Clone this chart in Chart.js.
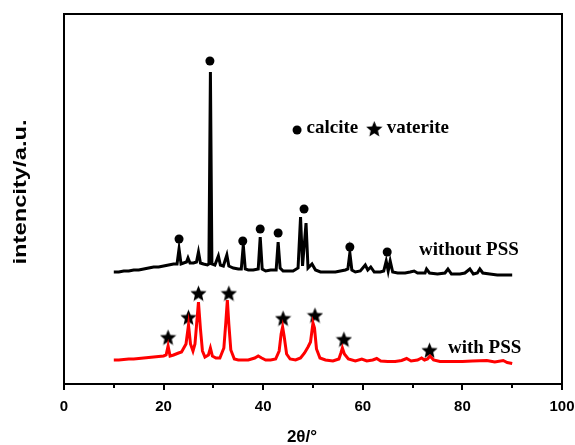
<!DOCTYPE html>
<html>
<head>
<meta charset="utf-8">
<script src="https://cdn.jsdelivr.net/npm/chart.js@4"></script>
<style>
  body { margin: 0; background: #fff; }
</style>
</head>
<body>
<canvas id="xrd" width="575" height="445"></canvas>
<script>
// 2theta (deg) / intensity (a.u.)
const withoutPss = [
    [10,112],[11,112],[12,113],[13,113],[14,114],[15,114],[16,115],[17,116],[18,117],[19,117],
    [20,118],[21,119],[22,120],[22.7,120],[23.1,135],[23.5,120],[24,121],[24.6,122],[24.9,126],[25.3,121],
    [26,121],[26.6,122],[27.0,132],[27.4,121],[28,120],[28.8,119],[29.1,120],[29.4,312],[29.7,120],[30.3,119],
    [31.0,128],[31.4,119],[32.0,118],[32.7,129],[33.1,118],[34,116],[35,115],[35.6,115],[36.0,139],[36.4,115],
    [37,114],[38,114],[39.0,115],[39.4,147],[39.8,115],[40.5,113],[41.5,114],[42.6,114],[43.0,142],[43.4,116],
    [44,113],[45,113],[46,113],[47,116],[47.5,167],[47.9,118],[48.6,161],[49.0,116],[49.8,120],[50.5,114],
    [51.5,112],[53,112],[54.5,112],[55.5,113],[56.5,114],[57.0,115],[57.4,131],[57.8,114],[58.5,112],[59.5,113],
    [60.5,119],[61,114],[61.6,117],[62.3,112],[63.5,112],[64.2,113],[64.7,123],[65.1,113],[65.5,123],[66,112],
    [67,111],[68.5,111],[69.5,112],[70.3,113],[71,111],[72.5,111],[72.8,115],[73.4,111],[75,110],[76.5,111],
    [77.1,115],[77.8,110],[79.5,110],[80.5,111],[81.5,115],[82.2,110],[83,111],[83.5,115],[84.1,111],[85.5,110],
    [87,109],[88.5,109],[90,109]
];

const withPss = [
    [10,24],[11,24],[12,24.5],[13,25],[14,25],[15,25.5],[16,26],[17,26.5],[18,27],[19,27.5],
    [20,28],[20.5,29],[20.9,38],[21.3,28],[22,29],[23,31],[23.6,32],[24.5,40],[25.0,59],[25.4,40],
    [25.9,33],[26.3,40],[26.6,58],[27.0,82],[27.4,55],[27.8,33],[28.3,27],[29.0,29],[29.4,36],[29.8,28],
    [30.5,26],[31.3,26],[32.1,36],[32.5,62],[32.8,84],[33.1,60],[33.5,34],[34.2,25],[35,24],[36,24],
    [37,24],[38.3,26],[39.0,28],[39.7,26],[40.5,24],[41.5,24],[42.5,25],[43.2,33],[43.6,50],[43.9,57],
    [44.2,48],[44.7,30],[45.4,25],[46.5,24],[47.5,26],[48.3,31],[49.0,37],[49.5,42],[50.0,61],[50.3,56],
    [50.7,35],[51.4,26],[52.5,24],[54,23],[55.2,25],[55.6,31],[55.9,36],[56.3,30],[57.1,25],[58.5,23],
    [59.8,25],[60.8,23],[62,24],[62.8,25.5],[63.6,23],[65,22.5],[66.5,22.5],[67.8,23.5],[68.8,25.5],[69.7,23],
    [71,24],[71.8,26],[72.4,24],[73.0,25],[73.5,28],[74.2,24],[75.5,22.5],[77,22.5],[78.5,22.5],[80,22.5],
    [82,23],[84.9,23.5],[86.5,22],[88.2,23.5],[89,21.5],[90,20.5]
];

// marker positions above the peaks
const calcitePeaks = [[23.1,145],[29.3,323],[35.9,143],[39.4,155],[43.0,151],[48.2,175],[57.4,137],[64.9,132]];
const vateritePeaks = [[20.9,47],[25.0,67],[27.0,91],[33.1,91],[44.0,66],[50.4,69],[56.2,45],[73.4,34]];

const xTicks = [0, 20, 40, 60, 80, 100];
const xTitle = '2θ/°';
const yTitle = 'intencity/a.u.';

const toPoints = arr => arr.map(p => ({ x: p[0], y: p[1] }));

function makeStar(size) {
    const c = document.createElement('canvas');
    c.width = size;
    c.height = size;
    const g = c.getContext('2d');
    const R = size / 2, r = R * 0.45;
    g.beginPath();
    for (let k = 0; k < 10; k++) {
        const a = -Math.PI / 2 + k * Math.PI / 5;
        const rr = k % 2 ? r : R;
        g.lineTo(R + rr * Math.cos(a), R + 1 + rr * Math.sin(a));
    }
    g.closePath();
    g.fillStyle = '#000';
    g.fill();
    return c;
}
const star = makeStar(17);

const serif = 'bold 19px "Liberation Serif", "Times New Roman", serif';
const sans = '"Liberation Sans", Arial, sans-serif';

const decor = {
    id: 'decor',
    afterDraw(chart) {
        const { ctx, chartArea: a, scales: { x, y } } = chart;
        ctx.save();
        ctx.strokeStyle = '#000';
        ctx.lineWidth = 2;
        ctx.strokeRect(a.left, a.top, a.right - a.left, a.bottom - a.top);

        // major / minor ticks, outward
        for (let v = 0; v <= 100; v += 10) {
            const px = Math.round(x.getPixelForValue(v));
            ctx.beginPath();
            ctx.moveTo(px, a.bottom);
            ctx.lineTo(px, a.bottom + (v % 20 === 0 ? 6 : 4));
            ctx.stroke();
        }

        ctx.fillStyle = '#000';
        ctx.textBaseline = 'middle';

        ctx.font = 'bold 17px ' + sans;
        ctx.textAlign = 'center';
        ctx.fillText(xTitle, 302, 437);

        ctx.save();
        ctx.translate(21, 192);
        ctx.rotate(-Math.PI / 2);
        ctx.scale(1.25, 1);
        ctx.font = 'bold 19px ' + sans;
        ctx.fillText(yTitle, 0, 0);
        ctx.restore();

        // labels
        ctx.font = serif;
        ctx.textAlign = 'left';
        ctx.fillText('without PSS', x.getPixelForValue(71.3), y.getPixelForValue(134));
        ctx.fillText('with PSS', x.getPixelForValue(77.1), y.getPixelForValue(36));

        // key
        const ky = y.getPixelForValue(256);
        ctx.beginPath();
        ctx.arc(x.getPixelForValue(46.8), ky + 2, 4.5, 0, Math.PI * 2);
        ctx.fill();
        ctx.fillText('calcite', x.getPixelForValue(48.7), ky);
        ctx.drawImage(star, x.getPixelForValue(62.2) - 8, ky - 8);
        ctx.fillText('vaterite', x.getPixelForValue(64.8), ky);
        ctx.restore();
    }
};

const ctx = document.getElementById('xrd').getContext('2d');
const myChart = new Chart(ctx, {
    type: 'line',
    data: {
        datasets: [{
            label: 'without PSS',
            data: toPoints(withoutPss),
            borderColor: '#000',
            borderWidth: 3,
            pointRadius: 0,
            tension: 0
        }, {
            label: 'with PSS',
            data: toPoints(withPss),
            borderColor: '#ff0000',
            borderWidth: 3,
            pointRadius: 0,
            tension: 0
        }, {
            type: 'scatter',
            label: 'calcite',
            data: toPoints(calcitePeaks),
            pointStyle: 'circle',
            pointRadius: 4.5,
            backgroundColor: '#000',
            borderWidth: 0
        }, {
            type: 'scatter',
            label: 'vaterite',
            data: toPoints(vateritePeaks),
            pointStyle: star,
            backgroundColor: '#000'
        }]
    },
    options: {
        responsive: false,
        animation: false,
        layout: { padding: { top: 14, right: 13, left: 0, bottom: 0 } },
        plugins: {
            legend: { display: false },
            tooltip: { enabled: false }
        },
        scales: {
            x: {
                type: 'linear',
                min: 0,
                max: 100,
                afterBuildTicks: s => { s.ticks = xTicks.map(v => ({ value: v })); },
                afterFit: s => {
                    s.height = 61;
                    s.paddingLeft = 0;
                    s.paddingRight = 0;
                },
                grid: { display: false, drawTicks: false },
                border: { display: false },
                ticks: {
                    color: '#000',
                    padding: 14,
                    maxRotation: 0,
                    font: { family: sans, size: 15, weight: 'bold' }
                }
            },
            y: {
                min: 0,
                max: 370,
                afterFit: s => {
                    s.width = 64;
                    s.paddingTop = 0;
                    s.paddingBottom = 0;
                },
                grid: { display: false, drawTicks: false },
                border: { display: false },
                ticks: { display: false }
            }
        }
    },
    plugins: [decor]
});
</script>
</body>
</html>
